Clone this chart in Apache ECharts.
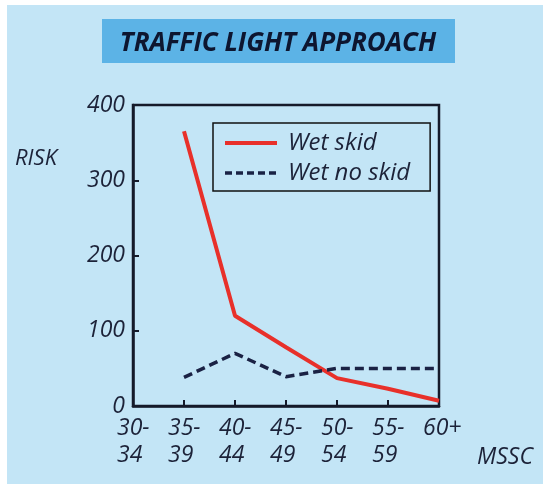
<!DOCTYPE html>
<html>
<head>
<meta charset="utf-8">
<script src="https://cdn.jsdelivr.net/npm/echarts@6/dist/echarts.min.js"></script>
<style>
  html, body { margin: 0; padding: 0; background: #ffffff; }
  #chart { width: 543px; height: 484px; }
</style>
</head>
<body>
<div id="chart"></div>
<script>
// age bands (MSSC)
const categories = ['30-\n34', '35-\n39', '40-\n44', '45-\n49', '50-\n54', '55-\n59', '60+']
const wetSkid = [null, 365, 120, 78, 37, 23, 7]
const wetNoSkid = [null, 38, 70, 39, 50, 50, 50]
const yTicks = [0, 100, 200, 300, 400]

const ink = '#1c2238'
const font = 'Open Sans'
const red = '#e8302a'
const navy = '#1a2244'

const chart = echarts.init(document.getElementById('chart'))
chart.setOption({
  backgroundColor: '#ffffff',
  animation: false,
  graphic: [
    // page background (thin white edge at top/left like the scan)
    { type: 'rect', left: 7, top: 5, shape: { width: 536, height: 479 }, style: { fill: '#c3e5f6' }, z: -10 },
    { type: 'rect', left: 102, top: 19, shape: { width: 353, height: 44 }, style: { fill: '#5cb3e6' }, z: -5 },
    {
      type: 'text', left: 15, top: 148,
      style: { text: 'RISK', fill: ink, font: 'italic 22px ' + font }
    }
  ],
  title: {
    text: 'TRAFFIC LIGHT APPROACH',
    left: 278,
    top: 31,
    textAlign: 'center',
    padding: 0,
    textStyle: { color: '#0d1630', fontSize: 26, fontWeight: 'bold', fontStyle: 'italic', fontFamily: font }
  },
  legend: {
    orient: 'vertical',
    left: 213,
    top: 123,
    padding: [8, 20, 6, 10],
    itemGap: 6,
    itemWidth: 52,
    itemHeight: 22,
    borderColor: '#111',
    borderWidth: 1.5,
    itemStyle: { opacity: 0 },
    textStyle: { color: ink, fontSize: 24, fontStyle: 'italic', fontFamily: font, padding: [0, 0, 0, 6] },
    data: [
      { name: 'Wet skid', lineStyle: { color: red, width: 4 } },
      { name: 'Wet no skid', lineStyle: { color: navy, width: 3.5, type: [7, 4] } }
    ]
  },
  grid: {
    left: 133, right: 104, top: 105, bottom: 78,
    show: true, borderColor: '#151a2a', borderWidth: 2.5, backgroundColor: 'transparent'
  },
  xAxis: {
    type: 'category',
    data: categories,
    boundaryGap: false,
    name: 'MSSC',
    nameLocation: 'end',
    nameGap: 38,
    nameTextStyle: { color: ink, fontSize: 23, fontStyle: 'italic', fontFamily: font, verticalAlign: 'top', padding: [40, 0, 0, 0] },
    axisLine: { lineStyle: { color: '#151a2a', width: 2.5 } },
    axisTick: { inside: true, alignWithLabel: true, interval: 0, length: 6, lineStyle: { color: '#151a2a', width: 2 } },
    axisLabel: {
      interval: 0,
      margin: 9,
      color: ink,
      fontSize: 23,
      fontStyle: 'italic',
      fontFamily: font,
      lineHeight: 27,
      formatter: v => '{a|' + v + '}',
      rich: { a: { width: 32, align: 'left', color: ink, fontSize: 23, fontStyle: 'italic', fontFamily: font, lineHeight: 27 } }
    },
    splitLine: { show: false }
  },
  yAxis: {
    type: 'value',
    min: yTicks[0],
    max: yTicks[yTicks.length - 1],
    interval: 100,
    axisLine: { show: true, lineStyle: { color: '#151a2a', width: 2.5 } },
    axisTick: { show: true, inside: true, length: 6, lineStyle: { color: '#151a2a', width: 2 } },
    axisLabel: { margin: 8, color: ink, fontSize: 23, fontStyle: 'italic', fontFamily: font },
    splitLine: { show: false }
  },
  series: [
    {
      name: 'Wet skid',
      type: 'line',
      data: wetSkid,
      symbol: 'none',
      lineStyle: { color: red, width: 4 },
      itemStyle: { color: red }
    },
    {
      name: 'Wet no skid',
      type: 'line',
      data: wetNoSkid,
      symbol: 'none',
      lineStyle: { color: navy, width: 3.5, type: [9, 5] },
      itemStyle: { color: navy }
    }
  ]
})
</script>
</body>
</html>
